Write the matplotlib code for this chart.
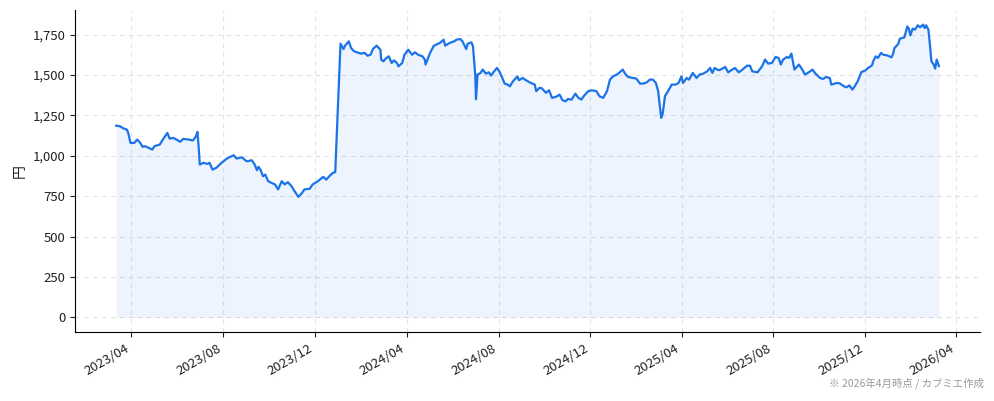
import matplotlib
matplotlib.use("Agg")
import matplotlib.pyplot as plt
import matplotlib.dates as mdates
from matplotlib.ticker import FuncFormatter, MultipleLocator
import pandas as pd

plt.rcParams['font.family'] = ['Noto Sans CJK JP', 'DejaVu Sans']

dates = [
    "2023-03-12", "2023-03-17", "2023-03-22", "2023-03-26", "2023-03-28", "2023-03-31",
    "2023-04-05", "2023-04-09", "2023-04-13", "2023-04-16", "2023-04-19", "2023-04-24",
    "2023-04-29", "2023-05-02", "2023-05-09", "2023-05-13", "2023-05-19", "2023-05-22",
    "2023-05-27", "2023-05-31", "2023-06-05", "2023-06-09", "2023-06-16", "2023-06-22",
    "2023-06-26", "2023-06-28", "2023-06-30", "2023-07-01", "2023-07-06", "2023-07-11",
    "2023-07-14", "2023-07-18", "2023-07-23", "2023-07-30", "2023-08-06", "2023-08-15",
    "2023-08-19", "2023-08-26", "2023-09-01", "2023-09-03", "2023-09-08", "2023-09-12",
    "2023-09-15", "2023-09-17", "2023-09-20", "2023-09-23", "2023-09-26", "2023-09-30",
    "2023-10-04", "2023-10-09", "2023-10-13", "2023-10-18", "2023-10-22", "2023-10-26",
    "2023-10-31", "2023-11-04", "2023-11-09", "2023-11-14", "2023-11-17", "2023-11-24",
    "2023-11-28", "2023-12-05", "2023-12-12", "2023-12-16", "2023-12-21", "2023-12-25",
    "2023-12-28",
    "2024-01-04", "2024-01-08", "2024-01-10", "2024-01-15", "2024-01-18", "2024-01-22",
    "2024-01-26", "2024-01-31", "2024-02-05", "2024-02-09", "2024-02-13", "2024-02-16",
    "2024-02-21", "2024-02-26", "2024-02-27", "2024-03-01", "2024-03-05", "2024-03-08",
    "2024-03-12", "2024-03-15", "2024-03-19", "2024-03-21", "2024-03-26", "2024-03-29",
    "2024-04-03", "2024-04-08", "2024-04-12", "2024-04-16", "2024-04-22", "2024-04-25",
    "2024-04-26", "2024-05-02", "2024-05-07", "2024-05-10", "2024-05-15", "2024-05-20",
    "2024-05-22", "2024-05-28", "2024-06-03", "2024-06-06", "2024-06-11", "2024-06-14",
    "2024-06-19", "2024-06-21", "2024-06-26", "2024-06-28", "2024-07-01", "2024-07-02",
    "2024-07-04", "2024-07-08", "2024-07-11", "2024-07-15", "2024-07-19", "2024-07-22",
    "2024-07-26", "2024-07-30", "2024-08-02", "2024-08-06", "2024-08-09", "2024-08-13",
    "2024-08-16", "2024-08-20", "2024-08-26", "2024-08-28", "2024-09-02", "2024-09-05",
    "2024-09-09", "2024-09-13", "2024-09-18", "2024-09-20", "2024-09-24", "2024-09-27",
    "2024-10-03", "2024-10-07", "2024-10-11", "2024-10-16", "2024-10-21", "2024-10-25",
    "2024-10-29", "2024-11-01", "2024-11-06", "2024-11-11", "2024-11-15", "2024-11-19",
    "2024-11-22", "2024-11-28", "2024-12-03", "2024-12-09", "2024-12-13", "2024-12-18",
    "2024-12-23", "2024-12-27", "2024-12-31",
    "2025-01-05", "2025-01-08", "2025-01-13", "2025-01-16", "2025-01-20", "2025-01-27",
    "2025-01-31", "2025-02-05", "2025-02-09", "2025-02-14", "2025-02-18", "2025-02-22",
    "2025-02-26", "2025-03-01", "2025-03-03", "2025-03-05", "2025-03-07", "2025-03-10",
    "2025-03-14", "2025-03-19", "2025-03-24", "2025-03-28", "2025-04-01", "2025-04-03",
    "2025-04-08", "2025-04-11", "2025-04-16", "2025-04-21", "2025-04-25", "2025-04-30",
    "2025-05-05", "2025-05-09", "2025-05-12", "2025-05-15", "2025-05-20", "2025-05-23",
    "2025-05-29", "2025-06-02", "2025-06-06", "2025-06-11", "2025-06-16", "2025-06-20",
    "2025-06-27", "2025-07-01", "2025-07-04", "2025-07-11", "2025-07-17", "2025-07-21",
    "2025-07-25", "2025-07-30", "2025-08-04", "2025-08-08", "2025-08-11", "2025-08-14",
    "2025-08-19", "2025-08-22", "2025-08-25", "2025-08-27", "2025-08-29", "2025-09-04",
    "2025-09-09", "2025-09-12", "2025-09-17", "2025-09-22", "2025-09-26", "2025-10-02",
    "2025-10-06", "2025-10-10", "2025-10-15", "2025-10-17", "2025-10-24", "2025-10-28",
    "2025-11-03", "2025-11-06", "2025-11-10", "2025-11-14", "2025-11-17", "2025-11-21",
    "2025-11-26", "2025-12-01", "2025-12-05", "2025-12-10", "2025-12-12", "2025-12-15",
    "2025-12-18", "2025-12-22", "2025-12-25", "2025-12-30",
    "2026-01-05", "2026-01-07", "2026-01-09", "2026-01-14", "2026-01-16", "2026-01-22",
    "2026-01-26", "2026-01-28", "2026-01-30", "2026-02-02", "2026-02-05", "2026-02-09",
    "2026-02-12", "2026-02-16", "2026-02-18", "2026-02-20", "2026-02-23", "2026-02-25",
    "2026-02-27", "2026-03-02", "2026-03-04", "2026-03-06", "2026-03-09",
]

prices = [
    1187, 1183, 1169, 1163, 1142, 1080,
    1080, 1101, 1080, 1056, 1060, 1050,
    1039, 1060, 1070, 1101, 1142, 1107,
    1111, 1101, 1087, 1105, 1101, 1095,
    1121, 1148, 1028, 946, 957, 950,
    957, 915, 926, 957, 983, 1004,
    983, 991, 967, 967, 973, 946,
    911, 932, 911, 874, 884, 843,
    833, 823, 792, 843, 823, 837,
    812, 781, 746, 771, 792, 796,
    823, 843, 870, 853, 878, 895,
    899,
    1694, 1661, 1682, 1709, 1668, 1647,
    1641, 1633, 1637, 1620, 1626, 1661,
    1682, 1657, 1596, 1585, 1606, 1616,
    1575, 1591, 1575, 1554, 1575, 1626,
    1657, 1626, 1641, 1626, 1616, 1596,
    1565, 1637, 1682, 1688, 1699, 1719,
    1682, 1699, 1709, 1719, 1723, 1709,
    1661, 1694, 1702, 1678, 1500, 1350,
    1503, 1513, 1534, 1509, 1517, 1497,
    1523, 1544, 1523, 1482, 1447, 1441,
    1430, 1461, 1492, 1468, 1482, 1472,
    1461, 1451, 1441, 1400, 1420, 1420,
    1390, 1406, 1359, 1365, 1379, 1344,
    1338, 1352, 1348, 1385, 1359, 1348,
    1369, 1400, 1406, 1400, 1369, 1359,
    1400, 1472, 1492,
    1503, 1513, 1534, 1509, 1488, 1482,
    1478, 1447, 1447, 1455, 1472, 1472,
    1451, 1400, 1317, 1235, 1260, 1369,
    1400, 1441, 1441, 1451, 1492, 1451,
    1482, 1472, 1513, 1482, 1503, 1509,
    1523, 1544, 1513, 1544, 1530, 1534,
    1550, 1517, 1530, 1544, 1517, 1530,
    1558, 1558, 1523, 1517, 1554, 1596,
    1571, 1575, 1612, 1606, 1565, 1596,
    1612, 1606, 1633, 1585, 1534, 1565,
    1530, 1503, 1517, 1534, 1509, 1482,
    1476, 1488, 1482, 1441, 1451, 1449,
    1430, 1424, 1436, 1410, 1430, 1461,
    1519, 1528, 1544, 1560, 1589, 1616,
    1606, 1637, 1626, 1622,
    1610, 1631, 1668, 1693, 1725, 1733,
    1801, 1787, 1746, 1787, 1781, 1808,
    1796, 1812, 1791, 1808, 1781, 1688,
    1585, 1565, 1540, 1596, 1556,
]

x = pd.to_datetime(dates)

line_color = "#1a73e8"

fig = plt.figure(figsize=(9.94, 4.01), dpi=100)
ax = fig.add_axes([0.0755, 0.172, 0.9105, 0.803])

ax.plot(x, prices, color=line_color, linewidth=1.6, zorder=3)
ax.fill_between(x, prices, 0, color=line_color, alpha=0.08, linewidth=0, zorder=2)

ax.yaxis.set_major_locator(MultipleLocator(250))
ax.yaxis.set_major_formatter(FuncFormatter(lambda v, p: f"{int(v):,}"))
ax.xaxis.set_major_locator(mdates.MonthLocator(bymonth=[4, 8, 12]))
ax.xaxis.set_major_formatter(mdates.DateFormatter("%Y/%m"))

ax.grid(True, linestyle=(0, (4, 4)), color="#e2e2e2", linewidth=0.8, zorder=0)
ax.set_axisbelow(True)
for s in ["top", "right"]:
    ax.spines[s].set_visible(False)

ax.tick_params(axis="both", labelsize=9.5, colors="#222222")
plt.setp(ax.get_xticklabels(), rotation=30, ha="right")
ax.set_ylabel("円", fontsize=10, color="#222222")

fig.text(0.99, 0.03, "※ 2026年4月時点 / カブミエ作成", ha="right", va="bottom",
         fontsize=7.5, color="#999999")

fig.savefig("out.png", dpi=100)
